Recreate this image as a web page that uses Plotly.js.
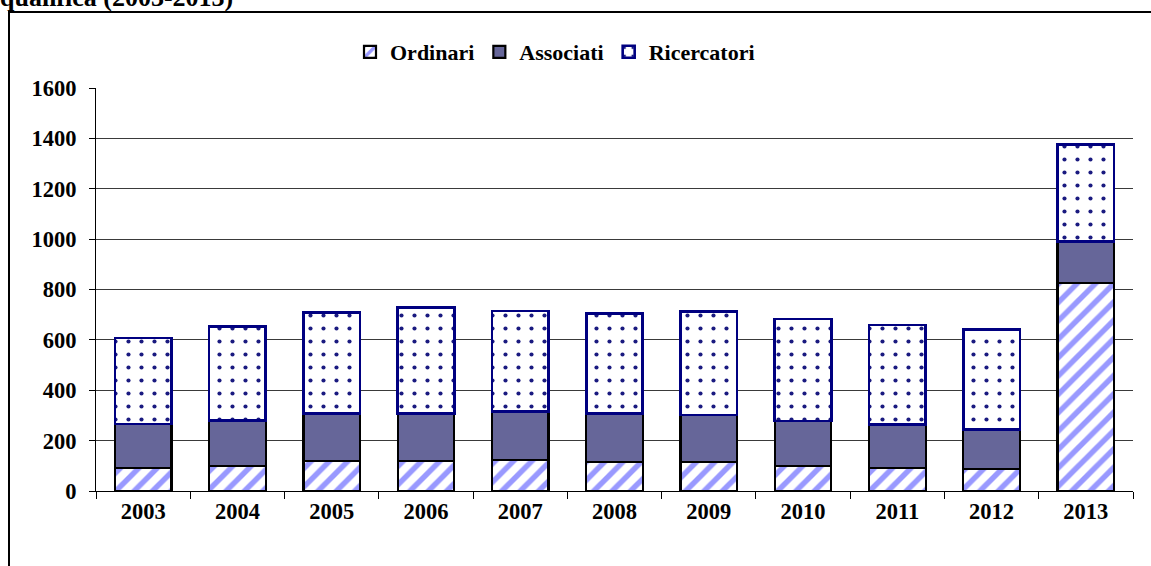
<!DOCTYPE html>
<html>
<head>
<meta charset="utf-8">
<script src="https://cdn.plot.ly/plotly-3.0.1.min.js"></script>
<style>
  html, body { margin: 0; padding: 0; background: #ffffff; }
  #chart { width: 1151px; height: 566px; }
</style>
</head>
<body>
<div id="chart"></div>
<script>
// Data
const years = ['2003','2004','2005','2006','2007','2008','2009','2010','2011','2012','2013'];
const ordinari    = [92, 99, 119, 120, 122, 116, 114, 99, 90, 86, 827];
const associati   = [174, 180, 188, 188, 193, 192, 188, 179, 175, 159, 163];
const ricercatori = [342, 373, 401, 421, 399, 397, 410, 405, 394, 397, 386];
const seriesNames = ['Ordinari', 'Associati', 'Ricercatori'];
const titleText = 'qualifica (2003-2013)';
const yTicks = [0, 200, 400, 600, 800, 1000, 1200, 1400, 1600];

const FONT = "'Liberation Serif', 'Times New Roman', serif";

// plot area in pixels (for converting frame positions to paper coords)
const W = 1151, H = 566;
const mL = 96, mR = 18, mT = 88, mB = 75;
const pw = W - mL - mR, ph = H - mT - mB;
const px = v => (v - mL) / pw;
const py = v => (H - mB - v) / ph;

const traces = [
  {
    type: 'bar', name: '<b>' + seriesNames[0] + '</b>', x: years, y: ordinari,
    marker: {
      color: '#ffffff',
      pattern: { shape: '/', fgcolor: '#9999ff', bgcolor: '#ffffff', size: 13, solidity: 0.42 },
      line: { color: '#000000', width: 2.2 }
    },
    hoverinfo: 'skip'
  },
  {
    type: 'bar', name: '<b>' + seriesNames[1] + '</b>', x: years, y: associati,
    marker: { color: '#666699', line: { color: '#000000', width: 2.2 } },
    hoverinfo: 'skip'
  },
  {
    type: 'bar', name: '<b>' + seriesNames[2] + '</b>', x: years, y: ricercatori,
    marker: {
      color: '#ffffff',
      pattern: { shape: '.', fgcolor: '#1a1a80', bgcolor: '#ffffff', size: 13, solidity: 0.08 },
      line: { color: '#000080', width: 2.6 }
    },
    hoverinfo: 'skip'
  }
];

const layout = {
  width: W, height: H,
  margin: { l: mL, r: mR, t: mT, b: mB, pad: 0 },
  paper_bgcolor: '#ffffff', plot_bgcolor: '#ffffff',
  barmode: 'stack',
  bargap: 0.4,
  font: { family: FONT, size: 22, color: '#000000', weight: 'bold' },
  showlegend: true,
  legend: {
    orientation: 'h', x: px(555), xanchor: 'center', y: py(52), yanchor: 'middle',
    traceorder: 'normal',
    font: { family: FONT, size: 22, color: '#000000', weight: 'bold' },
    bgcolor: 'rgba(0,0,0,0)', itemwidth: 30
  },
  xaxis: {
    type: 'category',
    showline: true, linecolor: '#000000', linewidth: 1,
    ticks: 'outside', tickson: 'boundaries', ticklen: 7, tickcolor: '#000000', tickwidth: 1,
    tickfont: { family: FONT, size: 22.5, color: '#000000', weight: 'bold' },
    showgrid: false, zeroline: false,
    fixedrange: true
  },
  yaxis: {
    range: [0, 1600],
    tickvals: yTicks,
    showline: true, linecolor: '#000000', linewidth: 1,
    ticks: 'outside', ticklen: 6, tickcolor: '#000000', tickwidth: 1,
    ticklabelstandoff: 8,
    tickfont: { family: FONT, size: 22.5, color: '#000000', weight: 'bold' },
    showgrid: true, gridcolor: '#3a3a3a', gridwidth: 1,
    zeroline: false, fixedrange: true
  },
  annotations: [
    {
      text: '<b>' + titleText + '</b>', xref: 'paper', yref: 'paper',
      x: px(-2), y: py(-2), xanchor: 'left', yanchor: 'middle',
      showarrow: false,
      font: { family: FONT, size: 26, color: '#000000', weight: 'bold' }
    }
  ],
  shapes: [
    { type: 'line', xref: 'paper', yref: 'paper', x0: px(9), x1: px(9), y0: py(568), y1: py(12),
      line: { color: '#000000', width: 2 } },
    { type: 'line', xref: 'paper', yref: 'paper', x0: px(8), x1: px(1153), y0: py(12), y1: py(12),
      line: { color: '#000000', width: 2 } }
  ]
};

Plotly.newPlot('chart', traces, layout, { displayModeBar: false, staticPlot: true });
</script>
</body>
</html>
